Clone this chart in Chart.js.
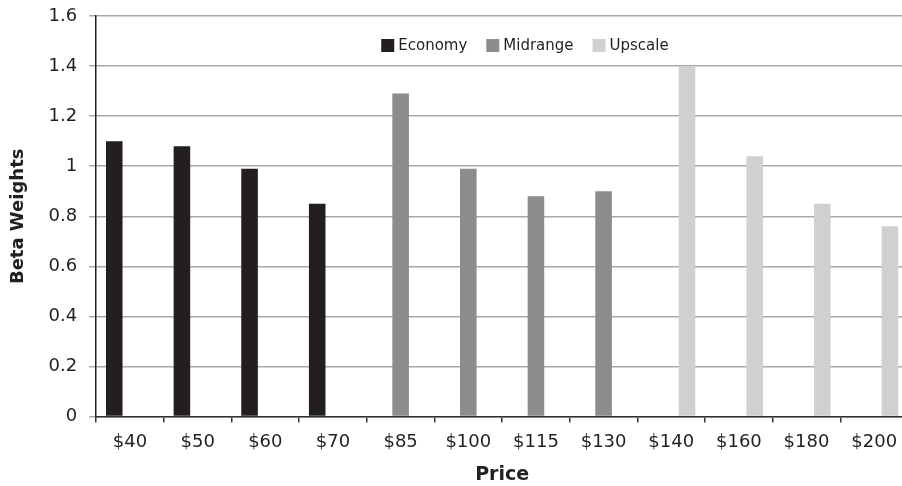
<!DOCTYPE html>
<html>
<head>
<meta charset="utf-8">
<script src="https://cdn.jsdelivr.net/npm/chart.js@4/dist/chart.umd.min.js"></script>
<style>
  html, body { margin: 0; padding: 0; background: #fff; overflow: hidden; }
  /* the original figure is cut off on the right, so the canvas is a bit wider than the window */
  #wrap { width: 910px; height: 486px; }
</style>
</head>
<body>
<div id="wrap"><canvas id="myChart"></canvas></div>
<script>
const prices = ["$40", "$50", "$60", "$70", "$85", "$100", "$115", "$130", "$140", "$160", "$180", "$200"];
const economy = [1.10, 1.08, 0.99, 0.85, null, null, null, null, null, null, null, null];
const midrange = [null, null, null, null, 1.29, 0.99, 0.88, 0.90, null, null, null, null];
const upscale = [null, null, null, null, null, null, null, null, 1.40, 1.04, 0.85, 0.76];
const yTicks = [0, 0.2, 0.4, 0.6, 0.8, 1, 1.2, 1.4, 1.6];

const font = "'DejaVu Sans', sans-serif";
const ink = "#231f20";

// legend drawn inside the plot area, near the top
const innerLegend = {
  id: "innerLegend",
  afterDraw: function (chart) {
    var c = chart.ctx;
    var area = chart.chartArea;
    var x = area.left + 285;
    var y = area.top + 23;
    c.save();
    c.font = "15px " + font;
    c.textBaseline = "middle";
    chart.data.datasets.forEach(function (ds) {
      c.fillStyle = ds.backgroundColor;
      c.fillRect(x, y, 13, 13);
      c.fillStyle = ink;
      c.fillText(ds.label, x + 17, y + 7);
      x += 17 + c.measureText(ds.label).width + 19;
    });
    c.restore();
  },
};

var ctx = document.getElementById("myChart").getContext("2d");
var myChart = new Chart(ctx, {
  type: "bar",
  data: {
    labels: prices,
    datasets: [
      { label: "Economy", data: economy, backgroundColor: "#231f20" },
      { label: "Midrange", data: midrange, backgroundColor: "#8c8c8c" },
      { label: "Upscale", data: upscale, backgroundColor: "#d0d0d2" },
    ],
  },
  plugins: [innerLegend],
  options: {
    responsive: true,
    maintainAspectRatio: false,
    animation: false,
    categoryPercentage: 0.7,
    barPercentage: 1.05,
    layout: { padding: { top: 16, right: 2, left: 8, bottom: 0 } },
    plugins: {
      tooltip: { enabled: false },
      legend: { display: false },
    },
    scales: {
      x: {
        grid: {
          drawOnChartArea: false,
          drawTicks: true,
          tickLength: 6,
          lineWidth: 1.5,
          color: "#333",
        },
        border: { color: "#333", width: 1.5 },
        ticks: { color: ink, font: { family: font, size: 18 }, padding: 9 },
        title: {
          display: true,
          text: "Price",
          color: ink,
          font: { family: font, size: 19, weight: "bold" },
          padding: { top: 1, bottom: 0 },
        },
      },
      y: {
        min: 0,
        max: 1.6,
        afterBuildTicks: function (axis) {
          axis.ticks = yTicks.map(function (v) { return { value: v }; });
        },
        // keep the tick label padding from pushing the plot top down
        afterFit: function (axis) {
          axis.paddingTop = 0;
          axis.paddingBottom = 0;
        },
        grid: { color: "#a8a8a8", lineWidth: 1.5, tickLength: 7 },
        border: { color: ink, width: 1.5 },
        ticks: {
          color: ink,
          font: { family: font, size: 18 },
          padding: 12,
          callback: function (v) { return String(Math.round(v * 10) / 10); },
        },
        title: {
          display: true,
          text: "Beta Weights",
          color: ink,
          font: { family: font, size: 18, weight: "bold" },
          padding: { top: 0, bottom: 7 },
        },
      },
    },
  },
});
</script>
</body>
</html>
